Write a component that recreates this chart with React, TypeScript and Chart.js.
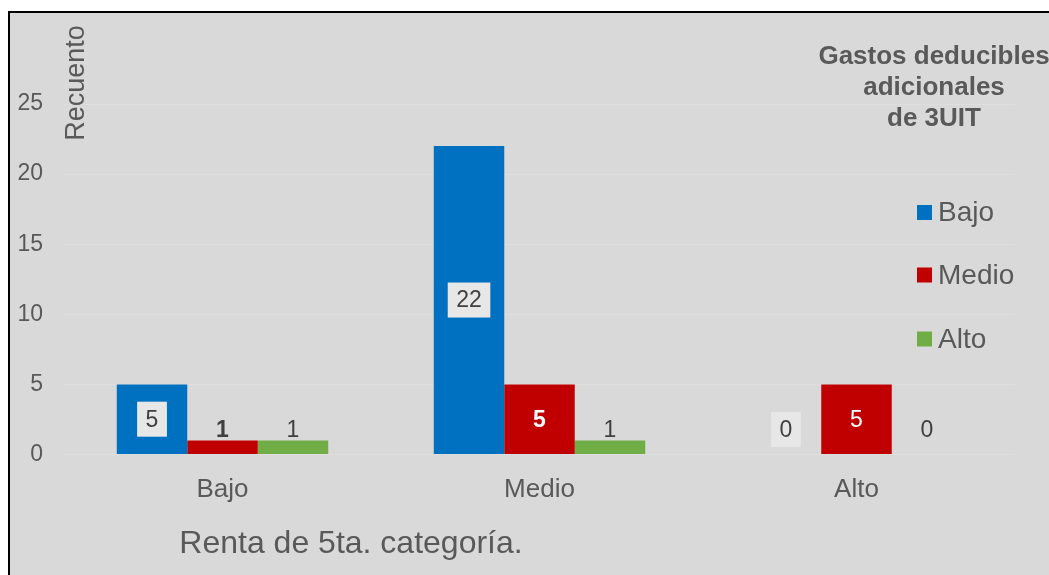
import React, { useEffect, useRef } from "react";
import { Chart, registerables } from "chart.js";

Chart.register(...registerables);

const categories = ["Bajo", "Medio", "Alto"];
const seriesNames = ["Bajo", "Medio", "Alto"];
const bajoValues = [5, 22, 0];
const medioValues = [1, 5, 5];
const altoValues = [1, 1, 0];
const yTicks = [0, 5, 10, 15, 20, 25];
const legendTitle = ["Gastos deducibles", "adicionales", "de 3UIT"];
const yTitle = "Recuento";
const xTitle = "Renta de 5ta. categoría.";

const COLORS = ["#0070C0", "#C00000", "#70AD47"];
const TEXT = "#595959";
const LABEL_DARK = "#404040";
const FONT = "'Liberation Sans', Arial, sans-serif";
// label styling per series: bold flags per category
const labelBold = [
  [false, false, false],
  [true, true, false],
  [false, false, false],
];

const framePlugin = {
  id: "frame",
  beforeDraw(chart: any) {
    const ctx = chart.ctx;
    ctx.save();
    ctx.fillStyle = "#ffffff";
    ctx.fillRect(0, 0, chart.width, chart.height);
    ctx.fillStyle = "#D9D9D9";
    ctx.fillRect(8, 11, chart.width - 8, chart.height - 11);
    ctx.fillStyle = "#000000";
    ctx.fillRect(8, 11, 2, chart.height - 11);
    ctx.fillRect(8, 11, chart.width - 8, 2);
    ctx.restore();
  },
};

const labelsPlugin = {
  id: "valueLabels",
  afterDatasetsDraw(chart: any) {
    const ctx = chart.ctx;
    const yScale = chart.scales.y;
    const base0 = yScale.getPixelForValue(0);
    ctx.save();
    ctx.textAlign = "center";
    ctx.textBaseline = "middle";
    chart.data.datasets.forEach((ds: any, i: number) => {
      const meta = chart.getDatasetMeta(i);
      meta.data.forEach((bar: any, j: number) => {
        const v = ds.data[j];
        const h = bar.base - bar.y;
        const inside = h >= 40;
        const y = inside ? (bar.y + bar.base) / 2 : base0 - 25;
        const bold = labelBold[i][j];
        ctx.font = `${bold ? "bold " : ""}23px ${FONT}`;
        const txt = String(v);
        if (i === 0) {
          const w = ctx.measureText(txt).width + 17;
          ctx.fillStyle = "#E7E7E7";
          ctx.fillRect(bar.x - w / 2, y - 17.5, w, 35);
          ctx.fillStyle = LABEL_DARK;
        } else {
          ctx.fillStyle = inside ? "#FFFFFF" : LABEL_DARK;
        }
        ctx.fillText(txt, bar.x, y + 1);
      });
    });
    ctx.restore();
  },
};

const decorPlugin = {
  id: "decor",
  afterDraw(chart: any) {
    const ctx = chart.ctx;
    ctx.save();
    ctx.fillStyle = TEXT;
    ctx.textAlign = "center";
    ctx.textBaseline = "middle";
    // legend title
    ctx.font = `bold 26px ${FONT}`;
    const ty = [57, 88, 119];
    legendTitle.forEach((t, k) => ctx.fillText(t, 934, ty[k]));
    // legend items
    const ly = [212.5, 275, 339];
    chart.data.datasets.forEach((ds: any, i: number) => {
      ctx.fillStyle = ds.backgroundColor;
      ctx.fillRect(917, ly[i] - 7.5, 15, 15);
      ctx.fillStyle = TEXT;
      ctx.textAlign = "left";
      ctx.font = `28px ${FONT}`;
      ctx.fillText(ds.label, 938, ly[i] + 1);
    });
    // y title
    ctx.save();
    ctx.translate(77, 83);
    ctx.rotate(-Math.PI / 2);
    ctx.textAlign = "center";
    ctx.font = `27px ${FONT}`;
    ctx.fillText(yTitle, 0, 0);
    ctx.restore();
    // x title
    ctx.textAlign = "center";
    ctx.font = `32px ${FONT}`;
    ctx.fillText(xTitle, 351, 544);
    ctx.restore();
  },
};

export default function App() {
  const ref = useRef<HTMLCanvasElement | null>(null);
  useEffect(() => {
    if (!ref.current) return;
    const chart = new Chart(ref.current, {
      type: "bar",
      data: {
        labels: categories,
        datasets: [bajoValues, medioValues, altoValues].map((d, i) => ({
          label: seriesNames[i],
          data: d,
          backgroundColor: COLORS[i],
          borderWidth: 0,
          barPercentage: 1,
          categoryPercentage: 0.667,
        })),
      },
      options: {
        animation: false,
        responsive: false,
        devicePixelRatio: 1,
        layout: { padding: { left: 0, right: 34, top: 104, bottom: 0 } },
        plugins: { legend: { display: false }, tooltip: { enabled: false }, title: { display: false } },
        scales: {
          x: {
            grid: { display: false },
            border: { display: false },
            ticks: { color: TEXT, font: { family: FONT, size: 26 }, padding: 12 },
            afterFit: (s: any) => { s.height = 120.5; },
          },
          y: {
            min: 0,
            max: 25,
            afterBuildTicks: (s: any) => { s.ticks = yTicks.map((v) => ({ value: v })); },
            grid: { color: "#DEDEDE", drawTicks: false },
            border: { display: false },
            ticks: { color: TEXT, font: { family: FONT, size: 23 }, padding: 21 },
            afterFit: (s: any) => { s.width = 64; },
          },
        },
      },
      plugins: [framePlugin, labelsPlugin, decorPlugin],
    });
    return () => chart.destroy();
  }, []);
  return (
    <div style={{ position: "fixed", left: 0, top: 0, width: 1049, height: 575 }}>
      <canvas ref={ref} width={1049} height={575} style={{ display: "block" }} />
    </div>
  );
}
